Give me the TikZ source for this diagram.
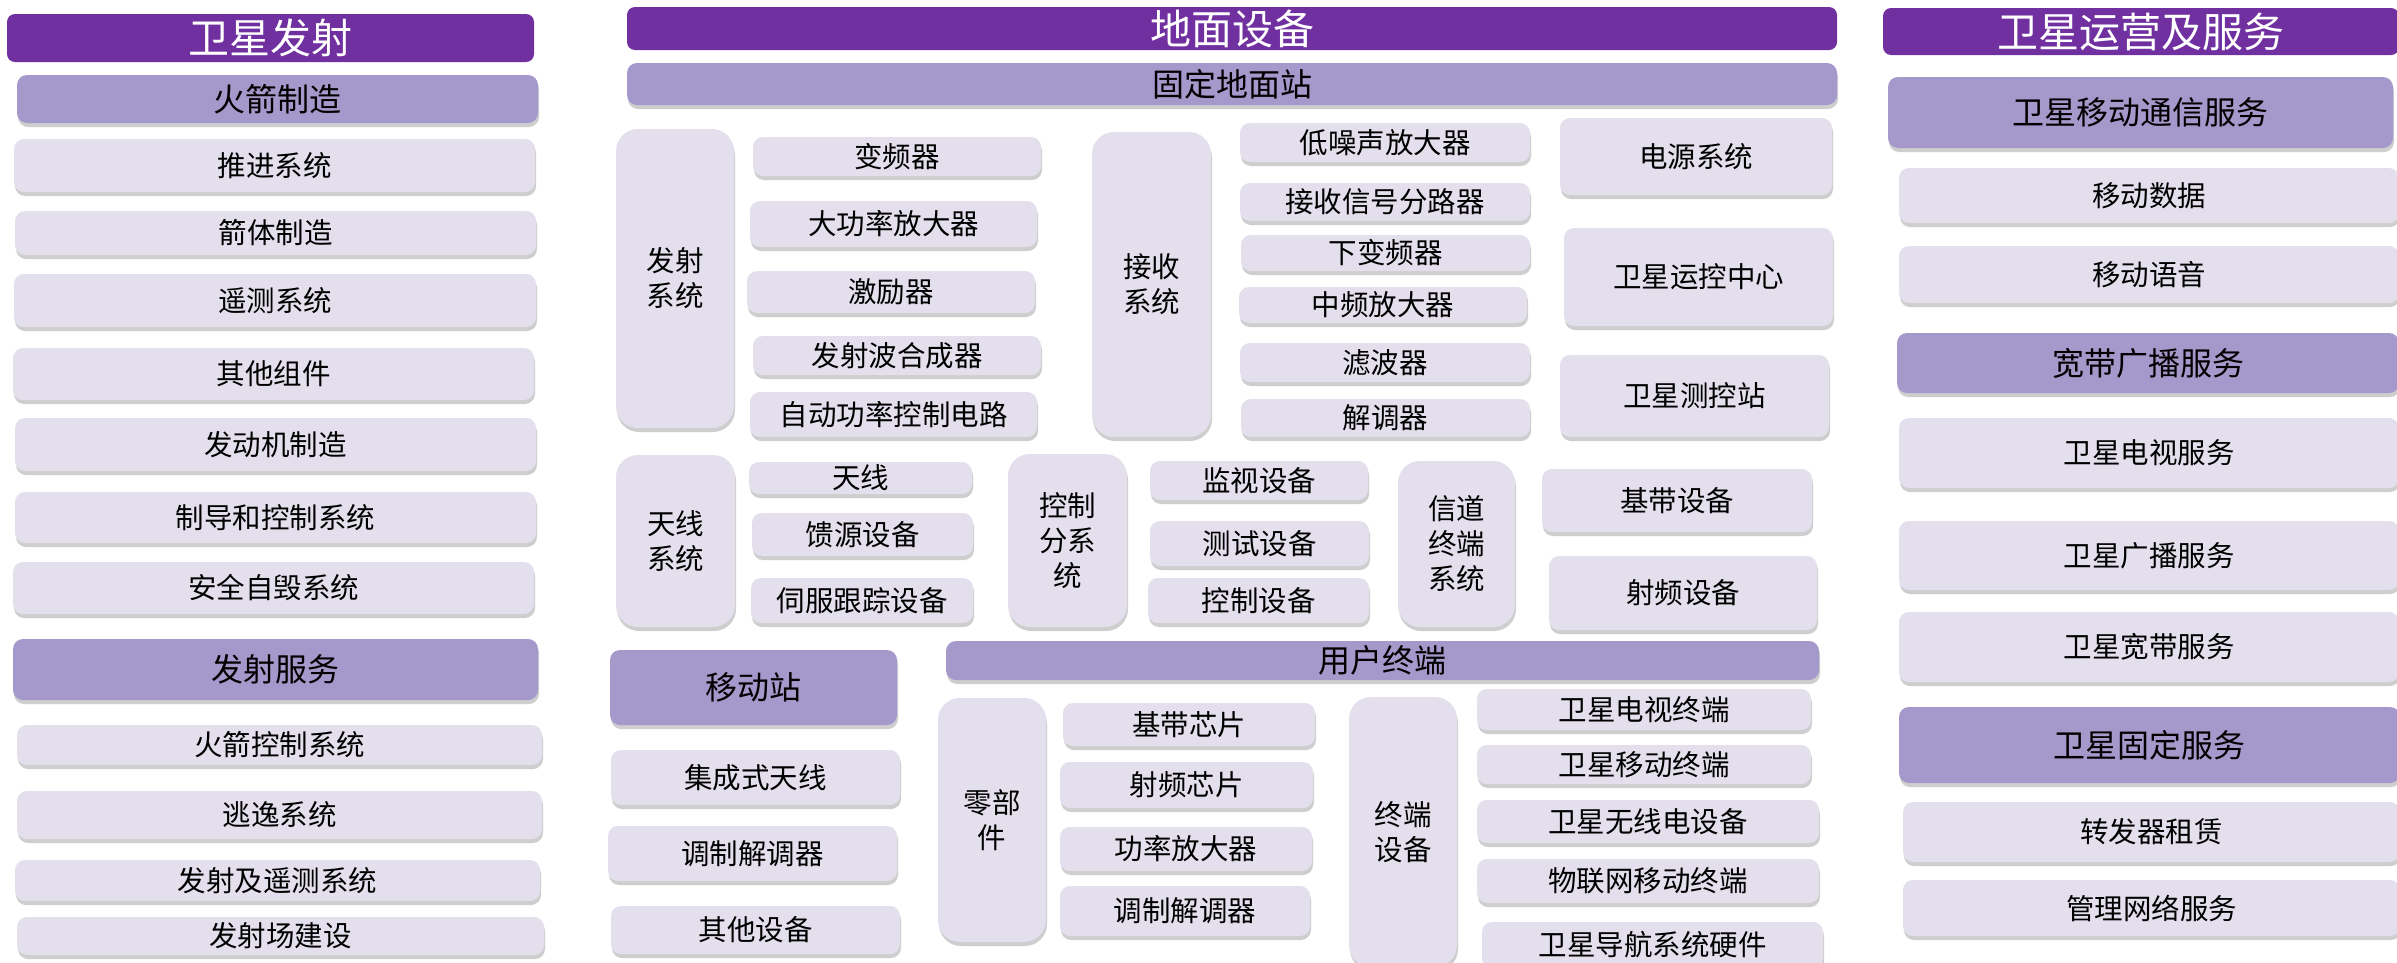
\documentclass[tikz,border=0pt]{standalone}
\usepackage{fontspec}
\setmainfont{Noto Sans CJK SC}
\usetikzlibrary{shadows}
\definecolor{dpur}{HTML}{7030A0}
\definecolor{mpur}{HTML}{A598CB}
\definecolor{lpur}{HTML}{E4DFEC}
\tikzset{
 base/.style={inner sep=0pt, outer sep=0pt, align=center, text=black},
 shd/.style={drop shadow={shadow xshift=1pt, shadow yshift=-4pt, opacity=0.35, fill=black!55}},
 ttl/.style={base, fill=dpur, rounded corners=8pt, text=white, font=\fontsize{41}{48}\selectfont},
 hdr/.style={base, fill=mpur, rounded corners=10pt, font=\fontsize{32}{38}\selectfont, shd},
 itm/.style={base, fill=lpur, rounded corners=10pt, font=\fontsize{28.5}{35}\selectfont, shd},
 tall/.style={itm, rounded corners=22pt},
}
\newcommand\Bx[7]{\node[#1, minimum width={#5pt-#3pt}, minimum height={#6pt-#4pt}] (#2) at ({(#3+#5)/2},{(#4+#6)/2}) {#7};}
\begin{document}
\begin{tikzpicture}[x=1pt,y=-1pt]
\useasboundingbox (0,0) rectangle (2397,962);
\fill[white] (0,0) rectangle (2397,962);
\clip (0,0) rectangle (2397,962);
% left column
\Bx{ttl}{t1}{7}{14}{534}{62}{卫星发射}
\Bx{hdr}{h1}{17}{75}{538}{123}{火箭制造}
\Bx{itm}{a1}{14}{139}{535}{192}{推进系统}
\Bx{itm}{a2}{15}{211}{536}{255}{箭体制造}
\Bx{itm}{a3}{14}{274}{536}{327}{遥测系统}
\Bx{itm}{a4}{13}{348}{534}{400}{其他组件}
\Bx{itm}{a5}{15}{418}{536}{471}{发动机制造}
\Bx{itm}{a6}{15}{492}{536}{543}{制导和控制系统}
\Bx{itm}{a7}{13}{562}{534}{614}{安全自毁系统}
\Bx{hdr}{h2}{13}{639}{538}{700}{发射服务}
\Bx{itm}{b1}{17}{725}{542}{765}{火箭控制系统}
\Bx{itm}{b2}{17}{791}{542}{839}{逃逸系统}
\Bx{itm}{b3}{15}{860}{540}{901}{发射及遥测系统}
\Bx{itm}{b4}{17}{917}{544}{955}{发射场建设}
% middle
\Bx{ttl}{t2}{627}{7}{1837}{50}{地面设备}
\Bx{hdr}{h3}{627}{63}{1837}{105}{固定地面站}
\Bx{tall}{c0}{616}{129}{734}{428}{发射\\系统}
\Bx{itm}{c1}{753}{137}{1041}{176}{变频器}
\Bx{itm}{c2}{750}{201}{1037}{247}{大功率放大器}
\Bx{itm}{c3}{747}{271}{1035}{313}{激励器}
\Bx{itm}{c4}{753}{336}{1041}{375}{发射波合成器}
\Bx{itm}{c5}{750}{392}{1037}{437}{自动功率控制电路}
\Bx{tall}{d0}{1092}{132}{1211}{437}{接收\\系统}
\Bx{itm}{d1}{1240}{123}{1530}{162}{低噪声放大器}
\Bx{itm}{d2}{1240}{183}{1530}{221}{接收信号分路器}
\Bx{itm}{d3}{1241}{235}{1530}{271}{下变频器}
\Bx{itm}{d4}{1239}{287}{1527}{323}{中频放大器}
\Bx{itm}{d5}{1240}{343}{1530}{382}{滤波器}
\Bx{itm}{d6}{1241}{399}{1530}{437}{解调器}
\Bx{itm}{e1}{1560}{118}{1832}{195}{电源系统}
\Bx{itm}{e2}{1564}{228}{1833}{326}{卫星运控中心}
\Bx{itm}{e3}{1560}{355}{1829}{437}{卫星测控站}
\Bx{tall}{f0}{616}{455}{735}{627}{天线\\系统}
\Bx{itm}{f1}{749}{462}{972}{494}{天线}
\Bx{itm}{f2}{752}{513}{973}{556}{馈源设备}
\Bx{itm}{f3}{751}{578}{973}{623}{伺服跟踪设备}
\Bx{tall}{g0}{1008}{454}{1127}{627}{控制\\分系\\统}
\Bx{itm}{g1}{1150}{461}{1368}{500}{监视设备}
\Bx{itm}{g2}{1150}{521}{1369}{566}{测试设备}
\Bx{itm}{g3}{1148}{578}{1369}{623}{控制设备}
\Bx{tall}{k0}{1398}{461}{1515}{627}{信道\\终端\\系统}
\Bx{itm}{k1}{1542}{469}{1812}{532}{基带设备}
\Bx{itm}{k2}{1549}{556}{1817}{630}{射频设备}
\Bx{hdr}{m0}{610}{650}{897}{725}{移动站}
\Bx{itm}{m1}{611}{750}{900}{805}{集成式天线}
\Bx{itm}{m2}{608}{826}{897}{881}{调制解调器}
\Bx{itm}{m3}{611}{906}{900}{954}{其他设备}
\Bx{hdr}{u0}{946}{641}{1819}{680}{用户终端}
\Bx{tall}{p0}{938}{698}{1046}{942}{零部\\件}
\Bx{itm}{p1}{1063}{703}{1315}{746}{基带芯片}
\Bx{itm}{p2}{1060}{762}{1313}{808}{射频芯片}
\Bx{itm}{p3}{1060}{827}{1312}{871}{功率放大器}
\Bx{itm}{p4}{1060}{886}{1310}{936}{调制解调器}
\Bx{tall}{q0}{1349}{697}{1457}{967}{终端\\设备}
\Bx{itm}{q1}{1477}{689}{1811}{730}{卫星电视终端}
\Bx{itm}{q2}{1477}{745}{1811}{784}{卫星移动终端}
\Bx{itm}{q3}{1477}{800}{1819}{843}{卫星无线电设备}
\Bx{itm}{q4}{1477}{859}{1819}{903}{物联网移动终端}
\Bx{itm}{q5}{1482}{922}{1823}{968}{卫星导航系统硬件}
% right column
\Bx{ttl}{t3}{1883}{8}{2399}{55}{卫星运营及服务}
\Bx{hdr}{r0}{1888}{77}{2393}{148}{卫星移动通信服务}
\Bx{itm}{r1}{1899}{168}{2399}{223}{移动数据}
\Bx{itm}{r2}{1899}{246}{2399}{303}{移动语音}
\Bx{hdr}{r3}{1897}{333}{2399}{393}{宽带广播服务}
\Bx{itm}{r4}{1899}{418}{2399}{488}{卫星电视服务}
\Bx{itm}{r5}{1899}{521}{2399}{590}{卫星广播服务}
\Bx{itm}{r6}{1899}{612}{2399}{682}{卫星宽带服务}
\Bx{hdr}{r7}{1899}{707}{2400}{783}{卫星固定服务}
\Bx{itm}{r8}{1903}{802}{2400}{862}{转发器租赁}
\Bx{itm}{r9}{1903}{880}{2400}{936}{管理网络服务}
\end{tikzpicture}
\end{document}
